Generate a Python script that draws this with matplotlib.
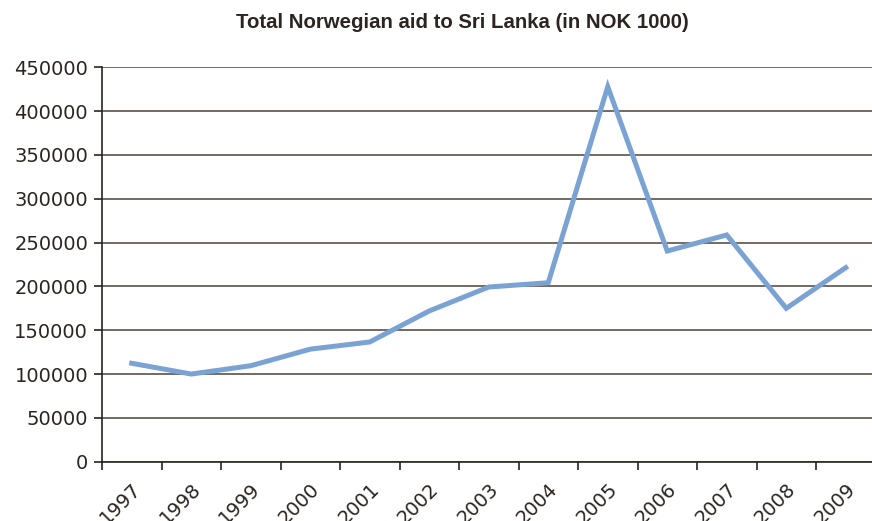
import matplotlib
matplotlib.use("Agg")
from matplotlib import pyplot as plt

years = ["1997", "1998", "1999", "2000", "2001", "2002", "2003",
         "2004", "2005", "2006", "2007", "2008", "2009"]
aid = [112300, 100000, 109500, 128400, 136600, 172000, 199300,
       204200, 427900, 240400, 258700, 175000, 221400]
y_ticks = [0, 50000, 100000, 150000, 200000, 250000, 300000, 350000, 400000, 450000]

text_col = "#2b2420"
grid_col = "#5a5048"

plt.rcParams["font.family"] = ["DejaVu Sans"]

fig = plt.figure(figsize=(8.72, 5.21), dpi=100)
W, H = 872, 521
left, right, top, bottom = 102, 875.5, 67.3, 461.7
ax = fig.add_axes([left / W, 1 - bottom / H, (right - left) / W, (bottom - top) / H])

x = list(range(len(years)))
ax.plot(x, aid, color="#7aa3d3", linewidth=3.6, solid_joinstyle="miter", zorder=3)

ax.set_xlim(-0.5, len(years) - 0.5)
ax.set_ylim(0, 450000)
ax.set_yticks(y_ticks)
ax.set_yticklabels([str(v) for v in y_ticks])
ax.set_xticks(x)
ax.set_xticklabels(years, rotation=45, ha="right", va="top", rotation_mode="anchor")
ax.set_xticks([i - 0.5 for i in range(len(years) + 1)], minor=True)

ax.grid(axis="y", color=grid_col, linewidth=1.2, zorder=1)
for s in ["top", "right"]:
    ax.spines[s].set_visible(False)
for s in ["left", "bottom"]:
    ax.spines[s].set_color(text_col)
    ax.spines[s].set_linewidth(1.2)

ax.tick_params(axis="x", which="major", length=0, pad=13, labelsize=14, labelcolor=text_col)
ax.tick_params(axis="x", which="minor", length=6, width=1.2, color=text_col, direction="out")
ax.tick_params(axis="y", length=6, width=1.2, color=text_col, pad=4, labelsize=14, labelcolor=text_col)

fig.text(462 / W, 1 - 22 / H, "Total Norwegian aid to Sri Lanka (in NOK 1000)",
         ha="center", va="center", fontsize=14.7, fontweight="bold", color=text_col,
         family=["Liberation Sans", "DejaVu Sans"])

fig.savefig("out.png", dpi=100)
